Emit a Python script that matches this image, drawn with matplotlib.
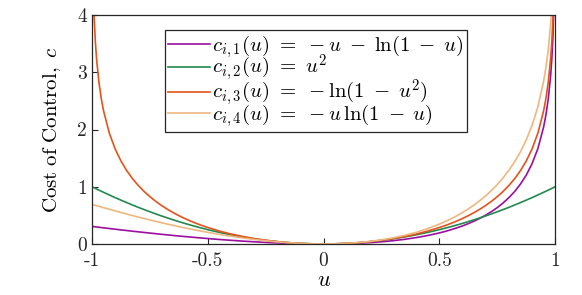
import numpy as np
import matplotlib
matplotlib.use("Agg")
import matplotlib.pyplot as plt

plt.rcParams['mathtext.fontset'] = 'cm'
plt.rcParams['font.family'] = 'serif'
plt.rcParams['font.serif'] = ['cmr10', 'DejaVu Serif']

# valori (u, costo)
u = [-1.0, -0.995, -0.99, -0.985, -0.98, -0.97, -0.96, -0.95, -0.925, -0.9,
     -0.875, -0.85, -0.825, -0.8, -0.775, -0.75, -0.725, -0.7, -0.675, -0.65,
     -0.625, -0.6, -0.575, -0.55, -0.525, -0.5, -0.45, -0.4, -0.35, -0.3,
     -0.25, -0.2, -0.15, -0.1, -0.05, 0.0,
     0.05, 0.1, 0.15, 0.2, 0.25, 0.3, 0.35, 0.4, 0.45, 0.5,
     0.525, 0.55, 0.575, 0.6, 0.625, 0.65, 0.675, 0.7, 0.725, 0.75,
     0.775, 0.8, 0.825, 0.85, 0.875, 0.9, 0.925, 0.95, 0.96, 0.97,
     0.98, 0.985, 0.99, 0.995, 1.0]

c1 = [0.307, 0.304, 0.302, 0.299, 0.297, 0.292, 0.287, 0.282, 0.270, 0.258,
      0.246, 0.235, 0.223, 0.212, 0.201, 0.190, 0.180, 0.169, 0.159, 0.149,
      0.139, 0.130, 0.121, 0.112, 0.103, 0.095, 0.078, 0.064, 0.050, 0.038,
      0.027, 0.018, 0.010, 0.005, 0.001, 0.0,
      0.001, 0.005, 0.013, 0.023, 0.038, 0.057, 0.081, 0.111, 0.148, 0.193,
      0.219, 0.249, 0.281, 0.316, 0.356, 0.400, 0.449, 0.504, 0.566, 0.636,
      0.717, 0.809, 0.918, 1.047, 1.204, 1.403, 1.665, 2.046, 2.259, 2.537,
      2.932, 3.215, 3.615, 4.303, np.nan]

c2 = [1.0, 0.990, 0.980, 0.970, 0.960, 0.941, 0.922, 0.903, 0.856, 0.810,
      0.766, 0.723, 0.681, 0.640, 0.601, 0.563, 0.526, 0.490, 0.456, 0.423,
      0.391, 0.360, 0.331, 0.303, 0.276, 0.250, 0.203, 0.160, 0.123, 0.090,
      0.063, 0.040, 0.023, 0.010, 0.003, 0.0,
      0.003, 0.010, 0.023, 0.040, 0.063, 0.090, 0.123, 0.160, 0.203, 0.250,
      0.276, 0.303, 0.331, 0.360, 0.391, 0.423, 0.456, 0.490, 0.526, 0.563,
      0.601, 0.640, 0.681, 0.723, 0.766, 0.810, 0.856, 0.903, 0.922, 0.941,
      0.960, 0.970, 0.980, 0.990, 1.0]

c3 = [np.nan, 4.608, 3.917, 3.514, 3.229, 2.829, 2.546, 2.328, 1.935, 1.661,
      1.451, 1.282, 1.141, 1.022, 0.918, 0.827, 0.746, 0.673, 0.608, 0.549,
      0.495, 0.446, 0.401, 0.360, 0.322, 0.288, 0.226, 0.174, 0.131, 0.094,
      0.065, 0.041, 0.023, 0.010, 0.003, 0.0,
      0.003, 0.010, 0.023, 0.041, 0.065, 0.094, 0.131, 0.174, 0.226, 0.288,
      0.322, 0.360, 0.401, 0.446, 0.495, 0.549, 0.608, 0.673, 0.746, 0.827,
      0.918, 1.022, 1.141, 1.282, 1.451, 1.661, 1.935, 2.328, 2.546, 2.829,
      3.229, 3.514, 3.917, 4.608, np.nan]

c4 = [0.693, 0.687, 0.681, 0.675, 0.669, 0.658, 0.646, 0.634, 0.606, 0.578,
      0.550, 0.523, 0.496, 0.470, 0.445, 0.420, 0.395, 0.371, 0.348, 0.326,
      0.303, 0.282, 0.261, 0.241, 0.222, 0.203, 0.167, 0.135, 0.105, 0.079,
      0.056, 0.036, 0.021, 0.010, 0.002, 0.0,
      0.003, 0.011, 0.024, 0.045, 0.072, 0.107, 0.151, 0.204, 0.269, 0.347,
      0.391, 0.439, 0.492, 0.550, 0.613, 0.682, 0.759, 0.843, 0.936, 1.040,
      1.156, 1.288, 1.438, 1.613, 1.820, 2.072, 2.396, 2.846, 3.090, 3.401,
      3.834, 4.137, 4.559, 5.272, np.nan]

etichette = [r'$c_{i,1}(u)\ =\ -u\;-\;\ln(1\;-\;u)$',
             r'$c_{i,2}(u)\ =\ u^2$',
             r'$c_{i,3}(u)\ =\ -\ln(1\;-\;u^2)$',
             r'$c_{i,4}(u)\ =\ -u\,\ln(1\;-\;u)$']
colori = ['#9a0fa0', '#23894f', '#e5521a', '#efb77f']

xtick_val = [-1, -0.5, 0, 0.5, 1]
xtick_lab = ['-1', '-0.5', '0', '0.5', '1']
ytick_val = [0, 1, 2, 3, 4]

fig = plt.figure(figsize=(5.82, 2.95), dpi=100)
ax = fig.add_axes([0.158, 0.173, 0.796, 0.776])

for serie, lab, col in zip([c1, c2, c3, c4], etichette, colori):
    ax.plot(u, serie, color=col, lw=1.2, label=lab)

ax.set_xlim(-1, 1)
ax.set_ylim(0, 4)
ax.set_xticks(xtick_val)
ax.set_xticklabels(xtick_lab, fontfamily='cmr10')
ax.set_yticks(ytick_val)
ax.set_yticklabels([str(v) for v in ytick_val], fontfamily='cmr10')
ax.tick_params(direction='in', length=4, width=0.8, labelsize=14, colors='#262626')
ax.tick_params(axis='x', pad=6)
for s in ax.spines.values():
    s.set_linewidth(0.9)
    s.set_color('#262626')

ax.set_xlabel('$u$', fontsize=16, labelpad=0)
ax.set_ylabel(r'$\mathrm{Cost\ of\ Control,}\ c$', fontsize=15, labelpad=10)

leg = ax.legend(loc='upper left', bbox_to_anchor=(0.158, 0.935), fontsize=15,
                handlelength=2.0, handletextpad=0.1, borderpad=0.15, labelspacing=-0.32,
                fancybox=False, framealpha=1, borderaxespad=0)
leg.get_frame().set_edgecolor('#262626')
leg.get_frame().set_linewidth(0.9)

plt.savefig('out.png', dpi=100)
